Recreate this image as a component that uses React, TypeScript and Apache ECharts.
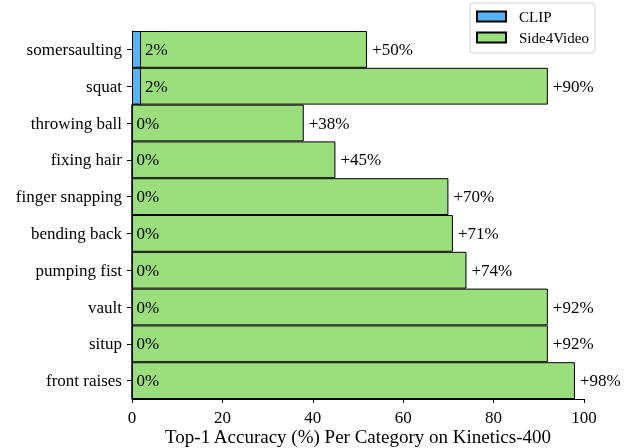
import React, { useEffect, useRef } from "react";
import * as echarts from "echarts";

const categories = [
  "somersaulting",
  "squat",
  "throwing ball",
  "fixing hair",
  "finger snapping",
  "bending back",
  "pumping fist",
  "vault",
  "situp",
  "front raises",
];
const clipValues = [2, 2, 0, 0, 0, 0, 0, 0, 0, 0];
const side4VideoValues = [52, 92, 38, 45, 70, 71, 74, 92, 92, 98];
const xTicks = [0, 20, 40, 60, 80, 100];

const FONT = "'Liberation Serif', 'Times New Roman', serif";

export default function App() {
  const ref = useRef<HTMLDivElement>(null);
  useEffect(() => {
    if (!ref.current) return;
    const chart = echarts.init(ref.current, undefined, { renderer: "svg" });
    const lbl = { fontFamily: FONT, fontSize: 17, color: "#000" };
    chart.setOption({
      animation: false,
      textStyle: { fontFamily: FONT, color: "#000" },
      grid: {
        left: 132,
        right: 45,
        top: 31,
        bottom: 49,
        containLabel: false,
        outerBoundsMode: "none",
      },
      legend: {
        data: ["CLIP", "Side4Video"],
        orient: "vertical",
        left: 470,
        top: 3,
        itemWidth: 29,
        itemHeight: 10,
        itemGap: 6,
        padding: [6, 6, 8, 6],
        borderColor: "#d0d0d0",
        borderWidth: 1,
        borderRadius: 3,
        icon: "rect",
        textStyle: { fontFamily: FONT, fontSize: 15, color: "#000", padding: [0, 0, 0, 8] },
      },
      xAxis: {
        type: "value",
        min: xTicks[0],
        max: xTicks[xTicks.length - 1],
        interval: 20,
        name: "Top-1 Accuracy (%) Per Category on Kinetics-400",
        nameLocation: "middle",
        nameGap: 28,
        nameMoveOverlap: false,
        nameTextStyle: { fontFamily: FONT, fontSize: 19, color: "#000" },
        axisLine: { show: true, lineStyle: { color: "#000", width: 1 } },
        axisTick: { show: true, length: 4, inside: false, lineStyle: { color: "#000" } },
        axisLabel: { ...lbl, margin: 10 },
        splitLine: { show: false },
      },
      yAxis: {
        type: "category",
        data: categories,
        inverse: true,
        axisLine: { show: true, lineStyle: { color: "#000", width: 1 } },
        axisTick: { show: true, length: 5, alignWithLabel: true, lineStyle: { color: "#000" } },
        axisLabel: { ...lbl, margin: 10 },
        splitLine: { show: false },
      },
      series: [
        {
          name: "Side4Video",
          type: "bar",
          data: side4VideoValues,
          barWidth: "100%",
          barGap: "-100%",
          itemStyle: { color: "#9BDE7E", borderColor: "#000", borderWidth: 1 },
          label: {
            show: true,
            position: "right",
            distance: 5,
            ...lbl,
            formatter: (p: any) => "+" + (side4VideoValues[p.dataIndex] - clipValues[p.dataIndex]) + "%",
          },
        },
        {
          name: "CLIP",
          type: "bar",
          data: clipValues,
          barWidth: "100%",
          barGap: "-100%",
          itemStyle: { color: "#56B4F6", borderColor: "#000", borderWidth: 1 },
          label: {
            show: true,
            position: ["100%", "50%"],
            align: "left",
            verticalAlign: "middle",
            offset: [4, 0],
            ...lbl,
            formatter: (p: any) => clipValues[p.dataIndex] + "%",
          },
        },
      ],
    });
    return () => chart.dispose();
  }, []);
  return (
    <div
      ref={ref}
      style={{ position: "fixed", left: 0, top: 0, width: 629, height: 448 }}
    />
  );
}
